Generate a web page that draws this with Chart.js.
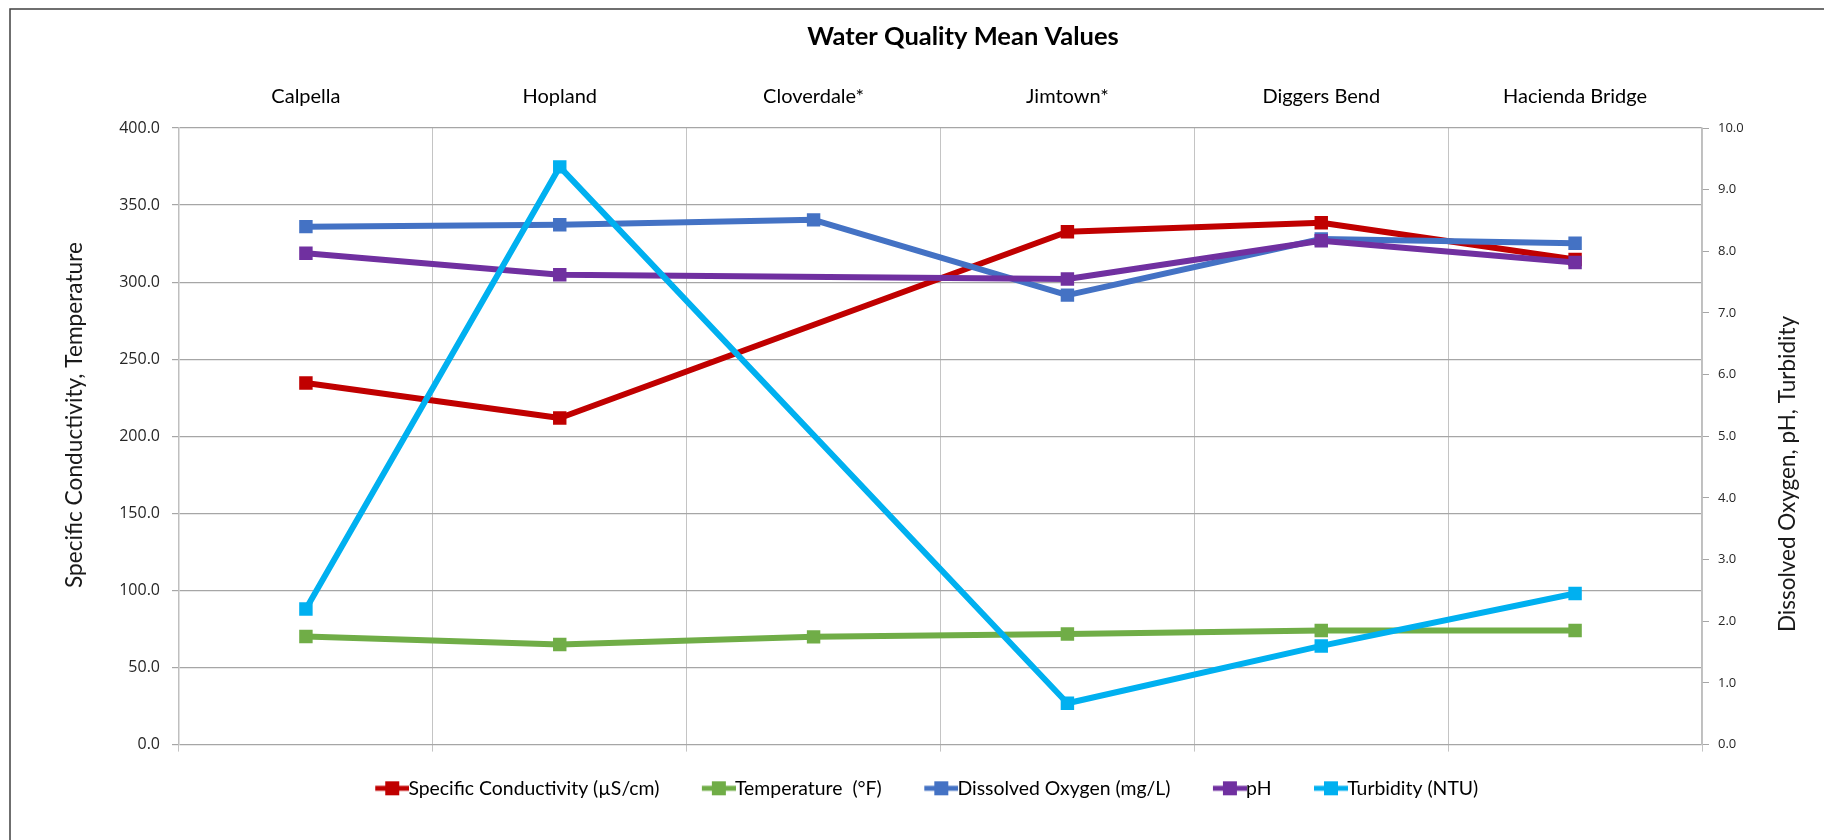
<!DOCTYPE html>
<html>
<head>
<meta charset="utf-8">
<title>Water Quality Mean Values</title>
<script src="https://cdn.jsdelivr.net/npm/chart.js@4.4.0/dist/chart.umd.min.js"></script>
<style>
  html, body { margin: 0; padding: 0; background: #ffffff; overflow: hidden; }
  #wrap { width: 1824px; height: 840px; }
</style>
</head>
<body>
<div id="wrap"><canvas id="myChart" width="1824" height="840"></canvas></div>
<script>
// sites along the river (x axis, labels shown on top)
var sites = ["Calpella", "Hopland", "Cloverdale*", "Jimtown*", "Diggers Bend", "Hacienda Bridge"];

// left axis series
var conductivity = [234.6, 211.9, null, 332.7, 338.5, 314.7];
var temperature = [70.1, 64.9, 69.9, 71.7, 74.0, 74.0];

// right axis series
var dissolvedOxygen = [8.40, 8.43, 8.51, 7.29, 8.20, 8.13];
var ph = [7.97, 7.62, null, 7.55, 8.17, 7.82];
var turbidity = [2.20, 9.37, null, 0.67, 1.60, 2.45];

var seriesNames = ["Specific Conductivity (\u00b5S/cm)", "Temperature  (\u00b0F)", "Dissolved Oxygen (mg/L)", "pH", "Turbidity (NTU)"];
var seriesColors = ["#C00000", "#70AD47", "#4472C4", "#7030A0", "#00B0F0"];

var chartTitle = "Water Quality Mean Values";
var leftTitle = "Specific Conductivity, Temperature";
var rightTitle = "Dissolved Oxygen, pH, Turbidity";

// line + square marker, like the excel legend key
function legendIcon(color){
  var c = document.createElement("canvas");
  c.width = 60; c.height = 16;
  var g = c.getContext("2d");
  g.fillStyle = color;
  g.fillRect(26, 5.5, 34, 5);
  g.fillRect(36, 1, 14, 14);
  return c;
}

function makeSet(i, data, axis){
  return {
    label: seriesNames[i],
    data: data,
    yAxisID: axis,
    borderColor: seriesColors[i],
    backgroundColor: seriesColors[i],
    borderWidth: 6,
    borderJoinStyle: "round",
    pointStyle: "rect",
    pointRadius: 9.5,
    pointHoverRadius: 9.5,
    pointBorderWidth: 0,
    spanGaps: true,
    tension: 0,
    order: 5 - i   // later series on top, like excel
  };
}

var icons = seriesColors.map(legendIcon);

// frame, title and the two axis titles
var extras = {
  id: "extras",
  beforeDraw: function(chart){
    var ctx = chart.ctx;
    ctx.save();
    ctx.fillStyle = "#ffffff";
    ctx.fillRect(0, 0, chart.width, chart.height);
    ctx.strokeStyle = "#404040";
    ctx.lineWidth = 1.5;
    ctx.beginPath();
    ctx.moveTo(10, 840);
    ctx.lineTo(10, 9);
    ctx.lineTo(1824, 9);
    ctx.stroke();
    ctx.restore();
  },
  afterDraw: function(chart){
    var ctx = chart.ctx;
    ctx.save();
    ctx.fillStyle = "#000000";
    ctx.textAlign = "center";
    ctx.textBaseline = "middle";
    ctx.font = "bold 25.5px Lato";
    ctx.fillText(chartTitle, 963, 37);

    ctx.font = "22.7px Lato";
    ctx.fillStyle = "#1a1a1a";
    ctx.translate(75, 415);
    ctx.rotate(-Math.PI / 2);
    ctx.fillText(leftTitle, 0, 0);
    ctx.restore();

    ctx.save();
    ctx.font = "22.5px Lato";
    ctx.fillStyle = "#1a1a1a";
    ctx.textAlign = "center";
    ctx.textBaseline = "middle";
    ctx.translate(1788, 474);
    ctx.rotate(-Math.PI / 2);
    ctx.fillText(rightTitle, 0, 0);
    ctx.restore();
  }
};

Chart.defaults.font.family = "Lato";
Chart.defaults.color = "#000000";

var myChart = document.getElementById("myChart").getContext("2d");

var lineChart = new Chart(myChart, {
  type: "line",
  data: {
    labels: sites,
    datasets: [
      makeSet(0, conductivity, "y"),
      makeSet(1, temperature, "y"),
      makeSet(2, dissolvedOxygen, "y2"),
      makeSet(3, ph, "y2"),
      makeSet(4, turbidity, "y2")
    ]
  },
  options: {
    responsive: false,
    animation: false,
    devicePixelRatio: 1,
    layout: { padding: { left: 14, right: 0, top: 60, bottom: 32 } },
    plugins: {
      title: { display: false },
      tooltip: { enabled: false },
      legend: {
        position: "bottom",
        labels: {
          usePointStyle: true,
          pointStyleWidth: 39,
          boxHeight: 14,
          padding: 27,
          color: "#000000",
          font: { family: "Lato", size: 19.4 },
          generateLabels: function(chart){
            var items = Chart.defaults.plugins.legend.labels.generateLabels(chart);
            items.sort(function(a, b){ return a.datasetIndex - b.datasetIndex; });
            items.forEach(function(it){ it.pointStyle = icons[it.datasetIndex]; });
            return items;
          }
        }
      }
    },
    scales: {
      x: {
        type: "category",
        position: "top",
        offset: true,
        grid: { offset: true, color: "#c4c4c4", lineWidth: 1, drawTicks: false },
        border: { display: false },
        ticks: { font: { family: "Lato", size: 20 }, color: "#000000", padding: 19, maxRotation: 0, autoSkip: false },
        afterFit: function(s){ s.height = 68; }
      },
      x2: {
        type: "category",
        position: "bottom",
        offset: true,
        grid: { offset: true, drawOnChartArea: false, color: "#c4c4c4", tickLength: 7 },
        border: { display: false },
        ticks: { display: false },
        afterFit: function(s){ s.height = 7; }
      },
      y: {
        position: "left",
        min: 0,
        max: 400,
        grid: { color: "#a6a6a6", lineWidth: 1.2, tickLength: 7 },
        border: { color: "#bfbfbf", width: 1.5 },
        ticks: {
          stepSize: 50,
          padding: 12,
          color: "#262626",
          font: { family: "Open Sans", size: 16 },
          callback: function(v){ return v.toFixed(1); }
        },
        afterFit: function(s){ s.width = 165; }
      },
      y2: {
        position: "right",
        min: 0,
        max: 10,
        grid: { drawOnChartArea: false, color: "#a6a6a6", tickLength: 7 },
        border: { color: "#bfbfbf", width: 1.5 },
        ticks: {
          stepSize: 1,
          padding: 9,
          color: "#262626",
          font: { family: "Open Sans", size: 13 },
          callback: function(v){ return v.toFixed(1); }
        },
        afterFit: function(s){ s.width = 122; }
      }
    }
  },
  plugins: [extras]
});
</script>
</body>
</html>
